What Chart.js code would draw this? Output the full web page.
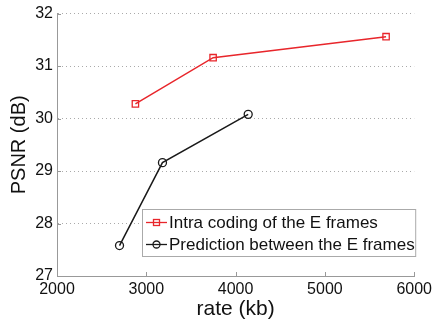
<!DOCTYPE html>
<html>
<head>
<meta charset="utf-8">
<script src="https://cdn.jsdelivr.net/npm/chart.js@4"></script>
<style>
  html, body { margin: 0; padding: 0; background: #fff; }
  #wrap { width: 436px; height: 322px; }
</style>
</head>
<body>
<div id="wrap"><canvas id="psnrChart" width="436" height="322"></canvas></div>
<script>
const intraRate = [2878, 3748, 5685];
const intraPsnr = [30.28, 31.16, 31.56];
const predRate = [2700, 3181, 4141];
const predPsnr = [27.58, 29.16, 30.08];
const seriesLabels = ['Intra coding of the E frames', 'Prediction between the E frames'];
const xTicks = [2000, 3000, 4000, 5000, 6000];
const yTicks = [27, 28, 29, 30, 31, 32];

const FONT = 'Liberation Sans, Arial, sans-serif';

// legend drawn inside the plot, lower right
const insideLegend = {
  id: 'insideLegend',
  afterDraw(chart) {
    const ctx = chart.ctx;
    const area = chart.chartArea;
    const x0 = 142, y0 = 209, w = area.right + 2 - x0, h = 48;
    ctx.save();
    ctx.fillStyle = '#fff';
    ctx.fillRect(x0, y0, w, h);
    ctx.strokeStyle = '#aaa';
    ctx.lineWidth = 1;
    ctx.strokeRect(x0 + 0.5, y0 + 0.5, w - 1, h - 1);
    ctx.font = '17px ' + FONT;
    ctx.textBaseline = 'middle';
    chart.data.datasets.forEach((ds, i) => {
      const cy = y0 + 13.5 + i * 22;
      ctx.strokeStyle = ds.borderColor;
      ctx.lineWidth = 1.3;
      ctx.beginPath();
      ctx.moveTo(x0 + 4, cy);
      ctx.lineTo(x0 + 25, cy);
      ctx.stroke();
      if (ds.pointStyle === 'rect') {
        ctx.strokeRect(x0 + 11.5, cy - 3, 6, 6);
      } else {
        ctx.beginPath();
        ctx.arc(x0 + 14.5, cy, 3.5, 0, Math.PI * 2);
        ctx.stroke();
      }
      ctx.fillStyle = '#111';
      ctx.fillText(ds.label, x0 + 27, cy + 1);
    });
    ctx.restore();
  }
};

// short inward tick marks, matlab style
const inwardTicks = {
  id: 'inwardTicks',
  afterDatasetsDraw(chart) {
    const ctx = chart.ctx;
    const xs = chart.scales.x, ys = chart.scales.y;
    ctx.save();
    ctx.strokeStyle = '#999';
    ctx.lineWidth = 1;
    ctx.beginPath();
    xTicks.forEach(v => {
      const px = Math.round(xs.getPixelForValue(v)) + 0.5;
      ctx.moveTo(px, ys.bottom);
      ctx.lineTo(px, ys.bottom - 4);
    });
    yTicks.forEach(v => {
      const py = Math.round(ys.getPixelForValue(v)) + 0.5;
      ctx.moveTo(xs.left, py);
      ctx.lineTo(xs.left + 4, py);
    });
    ctx.stroke();
    ctx.restore();
  }
};

new Chart(document.getElementById('psnrChart'), {
  type: 'line',
  data: {
    datasets: [
      {
        label: seriesLabels[0],
        data: intraRate.map((r, i) => ({ x: r, y: intraPsnr[i] })),
        borderColor: '#e8262b',
        backgroundColor: 'rgba(255,255,255,0)',
        borderWidth: 1.5,
        pointStyle: 'rect',
        pointRadius: 4.5,
        pointBorderWidth: 1.3,
        tension: 0
      },
      {
        label: seriesLabels[1],
        data: predRate.map((r, i) => ({ x: r, y: predPsnr[i] })),
        borderColor: '#1a1a1a',
        backgroundColor: 'rgba(255,255,255,0)',
        borderWidth: 1.5,
        pointStyle: 'circle',
        pointRadius: 4,
        pointBorderWidth: 1.3,
        tension: 0
      }
    ]
  },
  options: {
    responsive: false,
    animation: false,
    layout: { padding: { top: 9, right: 19, left: 0, bottom: 0 } },
    plugins: {
      legend: { display: false },
      tooltip: { enabled: false }
    },
    scales: {
      x: {
        type: 'linear',
        min: xTicks[0],
        max: xTicks[xTicks.length - 1],
        afterBuildTicks: (scale) => { scale.ticks = xTicks.map(v => ({ value: v })); },
        afterFit: (scale) => { scale.height = 46; },
        grid: { display: false, drawTicks: false },
        border: { display: true, color: '#999', width: 1 },
        ticks: {
          color: '#111',
          font: { family: FONT, size: 16 },
          padding: 4,
          maxRotation: 0,
          callback: (v) => String(v)
        },
        title: {
          display: true,
          text: 'rate (kb)',
          color: '#111',
          font: { family: FONT, size: 21 },
          padding: { top: -8, bottom: 0 }
        }
      },
      y: {
        min: yTicks[0],
        max: yTicks[yTicks.length - 1],
        afterBuildTicks: (scale) => { scale.ticks = yTicks.map(v => ({ value: v })); },
        afterFit: (scale) => { scale.width = 57; },
        grid: {
          color: (c) => (c.tick && c.tick.value === yTicks[0]) ? 'rgba(0,0,0,0)' : '#aaa',
          lineWidth: 1,
          drawTicks: false
        },
        border: { display: true, color: '#999', width: 1, dash: [1, 3] },
        ticks: {
          color: '#111',
          font: { family: FONT, size: 16 },
          padding: 4,
          callback: (v) => String(v)
        },
        title: {
          display: true,
          text: 'PSNR (dB)',
          color: '#111',
          font: { family: FONT, size: 20 },
          padding: { top: 7, bottom: 0 }
        }
      }
    }
  },
  plugins: [insideLegend, inwardTicks]
});
</script>
</body>
</html>
